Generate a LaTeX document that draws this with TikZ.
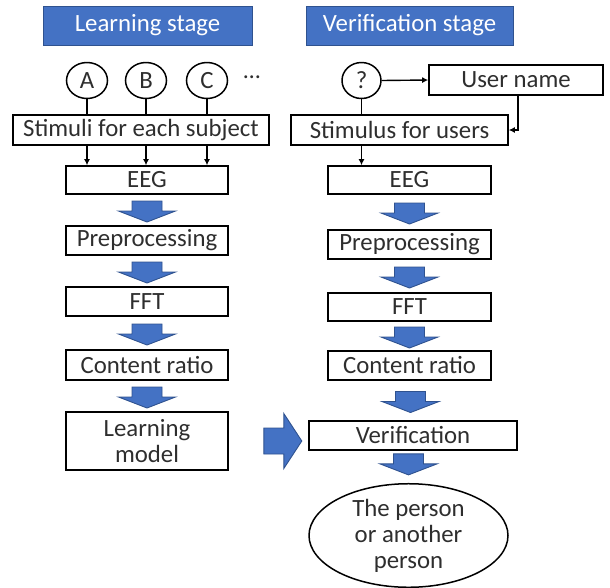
\documentclass[tikz,border=0pt]{standalone}
\usepackage{fontspec}
\setmainfont{Carlito}
\usetikzlibrary{calc,arrows.meta,shapes.geometric}
\definecolor{stageblue}{HTML}{4472C4}
\definecolor{stageedge}{HTML}{2F528F}
\definecolor{ink}{HTML}{2E2E2E}
\tikzset{
  stagebox/.style={rectangle,fill=stageblue,draw=stageedge,line width=0.8pt,
    text=white,font=\fontsize{24.8}{26}\selectfont,inner sep=0pt,minimum height=39pt},
  procbox/.style={rectangle,draw=black,line width=1.6pt,text=ink,
    font=\fontsize{24.8}{26}\selectfont,inner sep=0pt,align=center},
  subj/.style={ellipse,draw=black,line width=1.5pt,text=ink,
    font=\fontsize{24.8}{26}\selectfont,inner sep=0pt,minimum width=41pt,minimum height=36pt},
  link/.style={line width=1.4pt,draw=black},
  linkarrow/.style={link,-{Latex[length=6pt,width=6pt]}},
  pics/blkdown/.style={code={
    \filldraw[fill=stageblue,draw=stageedge,line width=0.9pt]
      (-15,0) -- (15,0) -- (15,10) -- (28.5,10) -- (0,21) -- (-28.5,10) -- (-15,10) -- cycle;}},
  pics/blkright/.style={code={
    \filldraw[fill=stageblue,draw=stageedge,line width=0.9pt]
      (0,-13) -- (20,-13) -- (20,-27.5) -- (38,0) -- (20,27.5) -- (20,13) -- (0,13) -- cycle;}}
}
\begin{document}
\begin{tikzpicture}[x=1pt,y=-1pt]
\useasboundingbox (0,0) rectangle (610,587);

% stage headers
\node[stagebox,minimum width=209pt] (ltitle) at (147.5,25.5) {Learning stage};
\node[stagebox,minimum width=207pt] (rtitle) at (409.5,25.5) {Verification stage};

% learning stage
\node[subj] (A) at (87,80.5) {A};
\node[subj] (B) at (146,80.5) {B};
\node[subj] (C) at (207,80.5) {C};
\node[text=ink,font=\fontsize{24}{26}\selectfont,inner sep=0pt] (dots) at (252,77) {…};
\node[procbox,minimum width=256pt,minimum height=30pt] (stimL) at (141,130) {Stimuli for each subject};
\node[procbox,minimum width=162pt,minimum height=28pt] (eegL) at (147,180) {EEG};
\node[procbox,minimum width=162pt,minimum height=29pt] (preL) at (147,240.5) {Preprocessing};
\node[procbox,minimum width=162pt,minimum height=29pt] (fftL) at (147,301.5) {FFT};
\node[procbox,minimum width=162pt,minimum height=30pt] (crL) at (147,365) {Content ratio};
\node[procbox,minimum width=162pt,minimum height=58pt] (lm) at (147,441) {Learning\\model};

\foreach \s in {A,B,C}{
  \draw[link] (\s.south) -- (stimL.north -| \s);
  \draw[linkarrow] (stimL.south -| \s) -- (eegL.north -| \s);
}
\pic at ($(eegL.south)!0.5!(preL.north)+(0,-9)$) {blkdown};
\pic at ($(preL.south)!0.5!(fftL.north)+(0,-9)$) {blkdown};
\pic at ($(fftL.south)!0.5!(crL.north)+(0,-9)$) {blkdown};
\pic at ($(crL.south)!0.5!(lm.north)+(0,-9)$) {blkdown};

% verification stage
\node[subj,minimum width=39pt] (q) at (361.5,80.5) {?};
\node[procbox,minimum width=174pt,minimum height=30pt] (user) at (516,80) {User name};
\node[procbox,minimum width=217pt,minimum height=30pt] (stimR) at (399.5,130) {Stimulus for users};
\node[procbox,minimum width=163pt,minimum height=28pt] (eegR) at (409.5,180) {EEG};
\node[procbox,minimum width=163pt,minimum height=29pt] (preR) at (409.5,244.5) {Preprocessing};
\node[procbox,minimum width=163pt,minimum height=28pt] (fftR) at (409.5,307) {FFT};
\node[procbox,minimum width=163pt,minimum height=29pt] (crR) at (409.5,365.5) {Content ratio};
\node[procbox,minimum width=208pt,minimum height=29pt] (verif) at (413,435.5) {Verification};
\node[ellipse,draw=black,line width=1.5pt,text=ink,font=\fontsize{24.8}{26}\selectfont,
  align=center,inner sep=0pt,minimum width=199pt,minimum height=100pt] (result) at (408.5,535.5)
  {The person\\or another\\person};

\draw[linkarrow] (q.east) -- (user.west);
\draw[linkarrow] ($(user.south)+(2,0)$) |- (stimR.east);
\draw[link] (q.south) -- (stimR.north -| q);
\draw[linkarrow] (stimR.south -| q) -- (eegR.north -| q);

\pic at ($(eegR.south)!0.5!(preR.north)+(0,-9)$) {blkdown};
\pic at ($(preR.south)!0.5!(fftR.north)+(0,-9)$) {blkdown};
\pic at ($(fftR.south)!0.5!(crR.north)+(0,-9)$) {blkdown};
\pic at ($(crR.south)!0.5!(crR.south |- verif.north)+(1,-9)$) {blkdown};
\pic at ($(verif.south -| result)!0.5!(result.north)+(0,-13)$) {blkdown};

% hand-over from learning to verification
\pic at ($(lm.east)+(35,0)$) {blkright};
\end{tikzpicture}
\end{document}
